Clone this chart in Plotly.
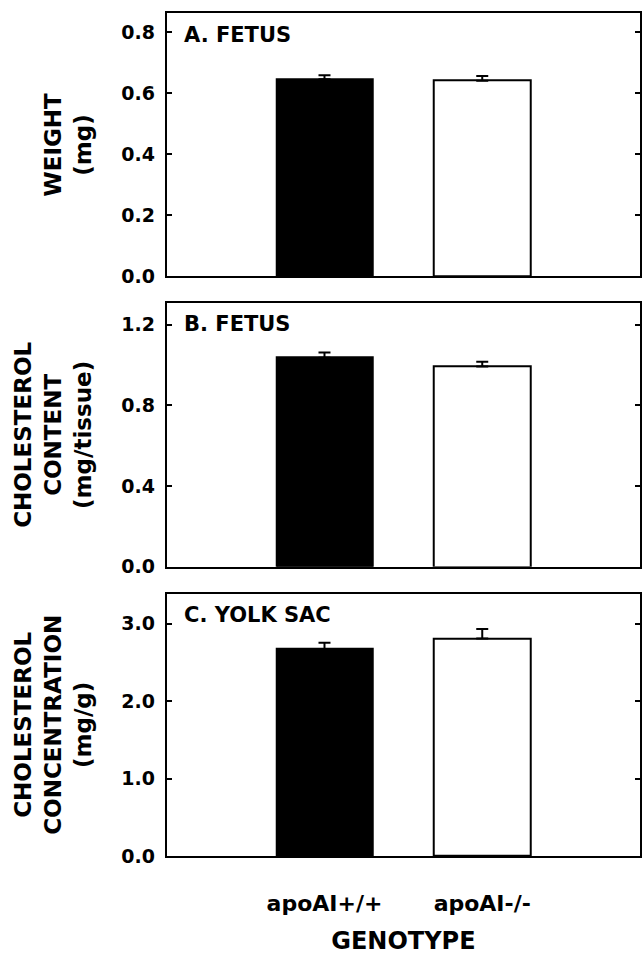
import plotly.graph_objects as go

# ---- data ----
genotypes = ["apoAI+/+", "apoAI-/-"]
weight_mg = [0.645, 0.640]
weight_err = [0.013, 0.016]
chol_content = [1.036, 0.992]
chol_content_err = [0.026, 0.024]
chol_conc = [2.673, 2.810]
chol_conc_err = [0.082, 0.123]

panel_labels = ["A. FETUS", "B. FETUS", "C. YOLK SAC"]
y_titles = ["WEIGHT<br>(mg)", "CHOLESTEROL<br>CONTENT<br>(mg/tissue)",
            "CHOLESTEROL<br>CONCENTRATION<br>(mg/g)"]
y_ranges = [[0, 0.861], [0, 1.306], [0, 3.387]]
y_ticks = [[0.0, 0.2, 0.4, 0.6, 0.8], [0.0, 0.4, 0.8, 1.2], [0.0, 1.0, 2.0, 3.0]]
x_title = "GENOTYPE"

values = [weight_mg, chol_content, chol_conc]
errors = [weight_err, chol_content_err, chol_conc_err]

# ---- layout geometry (pixels) ----
W, H = 642, 961
x_left, x_right = 167, 641
panels_px = [(13.5, 279.5), (306.7, 573.3), (600.7, 866.0)]

FONT = "DejaVu Sans"
fig = go.Figure()

for i in range(3):
    n = "" if i == 0 else str(i + 1)
    fig.add_trace(go.Bar(
        x=genotypes, y=values[i],
        xaxis="x" + n, yaxis="y" + n,
        width=0.61,
        marker=dict(color=["black", "white"], line=dict(color="black", width=2)),
        error_y=dict(type="data", array=errors[i], arrayminus=[0, 0], symmetric=False,
                     color="black", thickness=2, width=6),
        showlegend=False,
    ))
    top, bot = panels_px[i]
    ydom = [1 - bot / H, 1 - top / H]
    xdom = [x_left / W, x_right / W]
    xa = dict(domain=xdom, anchor="y" + n, type="category", range=[-1, 2],
              showline=True, linecolor="black", linewidth=2, mirror=True,
              ticks="", showgrid=False, zeroline=False,
              showticklabels=(i == 2),
              tickfont=dict(family=FONT, size=22, color="black", weight="bold"),
              ticklabelstandoff=27)
    if i == 2:
        xa["title"] = dict(text=x_title, font=dict(family=FONT, size=24, color="black", weight="bold"),
                           standoff=17)
    ya = dict(domain=ydom, anchor="x" + n, range=y_ranges[i],
              tickvals=y_ticks[i], tickformat=".1f",
              showline=True, linecolor="black", linewidth=2, mirror="ticks",
              ticks="inside", ticklen=5, tickwidth=2, tickcolor="black",
              showgrid=False, zeroline=False,
              tickfont=dict(family=FONT, size=19, color="black", weight="bold"),
              ticklabelstandoff=6)
    fig.layout["xaxis" + n] = xa
    fig.layout["yaxis" + n] = ya

    fig.add_annotation(text=panel_labels[i], xref="paper", yref="paper",
                       x=182 / W, y=1 - (top + 21.5) / H, xanchor="left", yanchor="middle",
                       showarrow=False,
                       font=dict(family=FONT, size=21, color="black", weight="bold"))
    fig.add_annotation(text=y_titles[i], xref="paper", yref="paper",
                       x=98 / W, y=1 - (top + bot) / 2 / H, xanchor="right", yanchor="middle",
                       textangle=-90, showarrow=False,
                       font=dict(family=FONT, size=23, color="black", weight="bold"))

fig.update_layout(width=W, height=H, margin=dict(l=0, r=0, t=0, b=0),
                  paper_bgcolor="white", plot_bgcolor="white", bargap=0)

fig.write_html("out.html")
